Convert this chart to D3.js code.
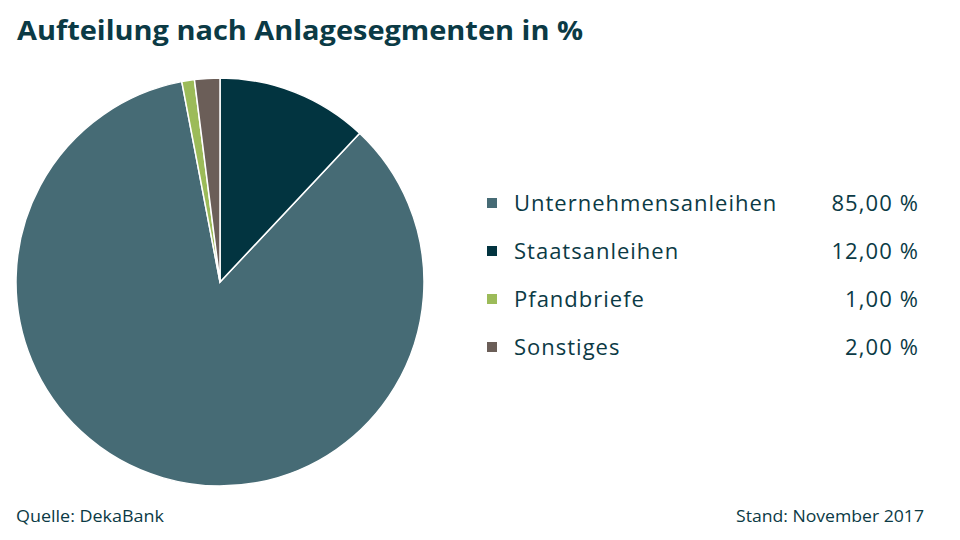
<!DOCTYPE html>
<html>
<head>
<meta charset="utf-8">
<script src="https://cdn.jsdelivr.net/npm/d3@7"></script>
<style>
  body { margin: 0; background: #fff; }
  text { font-family: "Open Sans", "Noto Sans", sans-serif; }
</style>
</head>
<body>
<svg id="chart" width="960" height="540"></svg>
<script>
// Daten
const categories = ["Unternehmensanleihen", "Staatsanleihen", "Pfandbriefe", "Sonstiges"];
const values = [85, 12, 1, 2];
const labels = ["85,00 %", "12,00 %", "1,00 %", "2,00 %"];
const colors = ["#466b75", "#023440", "#9cbb59", "#6b5e58"];
// Reihenfolge im Kreis (im Uhrzeigersinn ab 12 Uhr)
const pieOrder = ["Staatsanleihen", "Unternehmensanleihen", "Pfandbriefe", "Sonstiges"];

const svg = d3.select("#chart");
const textColor = "#0b3a45";

const data = categories.map((c, i) => ({ name: c, value: values[i], label: labels[i], color: colors[i] }));

// Titel
svg.append("text")
  .attr("x", 17).attr("y", 40)
  .attr("font-size", 26).attr("font-weight", "bold")
  .attr("fill", textColor)
  .attr("textLength", 566).attr("lengthAdjust", "spacingAndGlyphs")
  .text("Aufteilung nach Anlagesegmenten in %");

// Kreis
const pie = d3.pie()
  .value(d => d.value)
  .sort((a, b) => pieOrder.indexOf(a.name) - pieOrder.indexOf(b.name));
const arc = d3.arc().innerRadius(0).outerRadius(204);

svg.append("g")
  .attr("transform", "translate(220,282)")
  .selectAll("path")
  .data(pie(data))
  .join("path")
  .attr("d", arc)
  .attr("fill", d => d.data.color)
  .attr("stroke", "#fff")
  .attr("stroke-width", 1.5);

// Legende
const y = d3.scalePoint().domain(categories).range([203, 347]);
const legend = svg.append("g")
  .selectAll("g")
  .data(data)
  .join("g")
  .attr("transform", d => `translate(0,${y(d.name)})`);

legend.append("rect")
  .attr("x", 487).attr("y", -5).attr("width", 10).attr("height", 10)
  .attr("fill", d => d.color);

legend.append("text")
  .attr("x", 514).attr("dy", "0.35em")
  .attr("font-size", 22).attr("letter-spacing", 1).attr("fill", textColor)
  .text(d => d.name);

legend.append("text")
  .attr("x", 919).attr("dy", "0.35em")
  .attr("text-anchor", "end")
  .attr("font-size", 22).attr("letter-spacing", 1.1).attr("fill", textColor)
  .text(d => d.label);

// Fußzeile
svg.append("text")
  .attr("x", 16).attr("y", 522)
  .attr("font-size", 16).attr("fill", textColor)
  .attr("textLength", 148).attr("lengthAdjust", "spacingAndGlyphs")
  .text("Quelle: DekaBank");

svg.append("text")
  .attr("x", 924).attr("y", 522)
  .attr("text-anchor", "end")
  .attr("font-size", 16).attr("fill", textColor)
  .attr("textLength", 188).attr("lengthAdjust", "spacingAndGlyphs")
  .text("Stand: November 2017");
</script>
</body>
</html>
